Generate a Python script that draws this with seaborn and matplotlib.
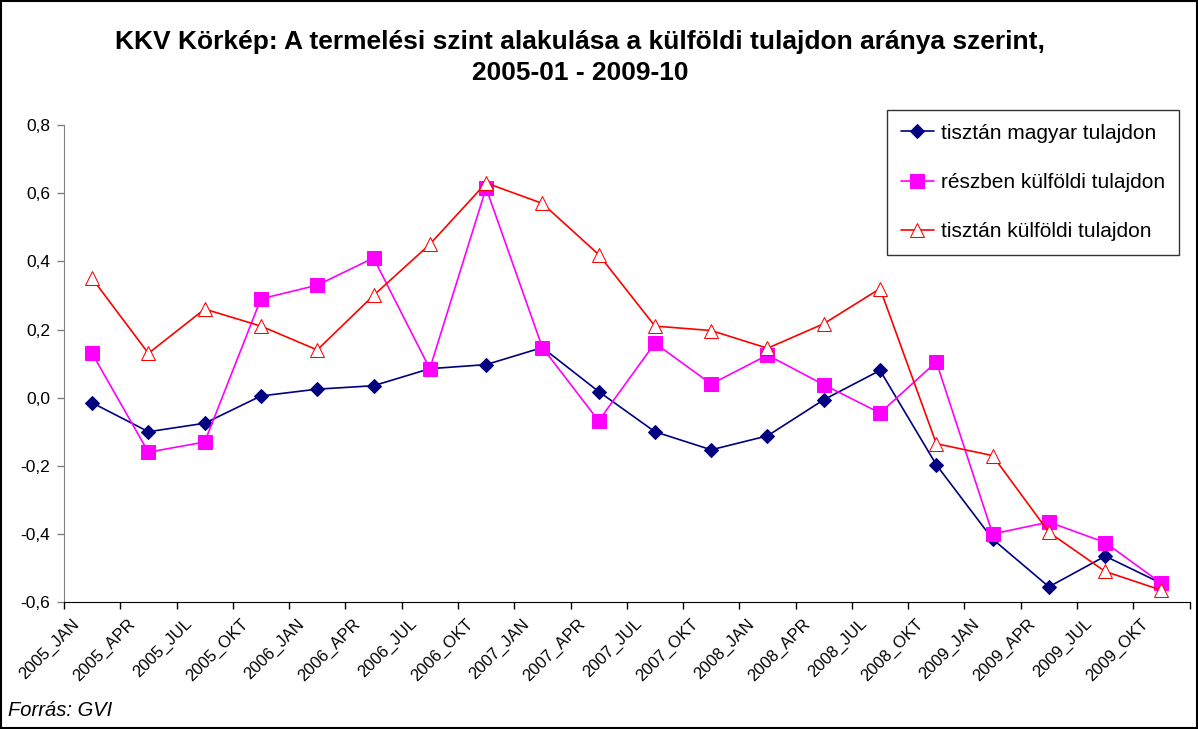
import pandas as pd
import matplotlib.pyplot as plt
import matplotlib.transforms as mtransforms
import seaborn as sns

# adatok (leolvasva a grafikonrol)
periods = ['2005_JAN', '2005_APR', '2005_JUL', '2005_OKT',
           '2006_JAN', '2006_APR', '2006_JUL', '2006_OKT',
           '2007_JAN', '2007_APR', '2007_JUL', '2007_OKT',
           '2008_JAN', '2008_APR', '2008_JUL', '2008_OKT',
           '2009_JAN', '2009_APR', '2009_JUL', '2009_OKT']
magyar = [-0.015, -0.10, -0.075, 0.005, 0.025, 0.035, 0.085, 0.097, 0.147, 0.018,
          -0.10, -0.153, -0.112, -0.006, 0.08, -0.197, -0.415, -0.555, -0.465, -0.545]
reszben = [0.13, -0.16, -0.13, 0.29, 0.33, 0.41, 0.085, 0.615, 0.147, -0.068,
           0.16, 0.04, 0.125, 0.038, -0.045, 0.105, -0.40, -0.365, -0.425, -0.545]
kulfoldi = [0.35, 0.13, 0.26, 0.21, 0.14, 0.30, 0.45, 0.63, 0.57, 0.42,
            0.21, 0.197, 0.145, 0.217, 0.32, -0.135, -0.17, -0.395, -0.51, -0.565]
series_names = ['tisztán magyar tulajdon', 'részben külföldi tulajdon', 'tisztán külföldi tulajdon']

df = pd.DataFrame({'idx': range(len(periods)), 'periodus': periods,
                   series_names[0]: magyar, series_names[1]: reszben, series_names[2]: kulfoldi})

sns.set_style('white')
plt.rcParams['font.family'] = ['Liberation Sans', 'DejaVu Sans']
plt.rcParams['text.color'] = 'black'
plt.rcParams['xtick.color'] = 'black'
plt.rcParams['ytick.color'] = 'black'
plt.rcParams['axes.labelcolor'] = 'black'

fig = plt.figure(figsize=(11.98, 7.29), dpi=100)
ax = fig.add_axes([0.0534, 0.174, 0.9396, 0.6545])

styles = [
    dict(color='#000080', marker='D', markersize=7.5, markerfacecolor='#000080', markeredgecolor='#000080'),
    dict(color='#FF00FF', marker='s', markersize=10, markerfacecolor='#FF00FF', markeredgecolor='#FF00FF'),
    dict(color='#FF0000', marker='^', markersize=10.5, markerfacecolor='white', markeredgecolor='#FF0000'),
]
for name, st in zip(series_names, styles):
    sns.lineplot(data=df, x='idx', y=name, ax=ax, label=name, linewidth=1.2, **st)

ax.set_xlim(-0.5, len(periods) - 0.5)
ax.set_ylim(-0.6, 0.8)
ax.set_yticks([-0.6, -0.4, -0.2, 0.0, 0.2, 0.4, 0.6, 0.8])
ax.set_yticklabels([f'{v:.1f}'.replace('.', ',') for v in ax.get_yticks()], fontsize=12.5)
ax.set_xticks(range(len(periods)))
ax.set_xticklabels(periods, rotation=45, ha='right', rotation_mode='anchor', fontsize=12)
ax.set_xticks([i - 0.5 for i in range(len(periods) + 1)], minor=True)
ax.tick_params(axis='x', which='major', length=0, pad=10, bottom=True)
ax.tick_params(axis='x', which='minor', length=5, width=1, color='black', direction='out', bottom=True)
ax.tick_params(axis='y', which='major', length=5, width=1, color='#808080', direction='out', left=True, pad=5)
offset = mtransforms.ScaledTranslation(-21 / 100, 0, fig.dpi_scale_trans)
for lab in ax.get_xticklabels():
    lab.set_transform(lab.get_transform() + offset)
ax.set_xlabel('')
ax.set_ylabel('')
ax.grid(False)
for s in ['top', 'right']:
    ax.spines[s].set_visible(False)
ax.spines['left'].set_color('#808080')
ax.spines['bottom'].set_color('black')

leg = ax.legend(loc='upper left', bbox_to_anchor=(0.7404, 0.849), bbox_transform=fig.transFigure,
                fontsize=15, frameon=True, fancybox=False, edgecolor='black',
                labelspacing=1.45, handlelength=1.6, handletextpad=0.35, borderpad=0.65, borderaxespad=0)
leg.get_frame().set_linewidth(1)

fig.text(0.484, 0.942, 'KKV Körkép: A termelési szint alakulása a külföldi tulajdon aránya szerint,',
         ha='center', va='center', fontsize=19, fontweight='bold')
fig.text(0.484, 0.900, '2005-01 - 2009-10', ha='center', va='center', fontsize=19, fontweight='bold')
fig.text(0.007, 0.026, 'Forrás: GVI', ha='left', va='center', fontsize=14.5, style='italic')

# keret a teljes abra korul
fig.patches.append(plt.Rectangle((0.001, 0.001), 0.998, 0.998, transform=fig.transFigure,
                                 fill=False, edgecolor='black', linewidth=1.5))

fig.savefig('out.png', dpi=100)
